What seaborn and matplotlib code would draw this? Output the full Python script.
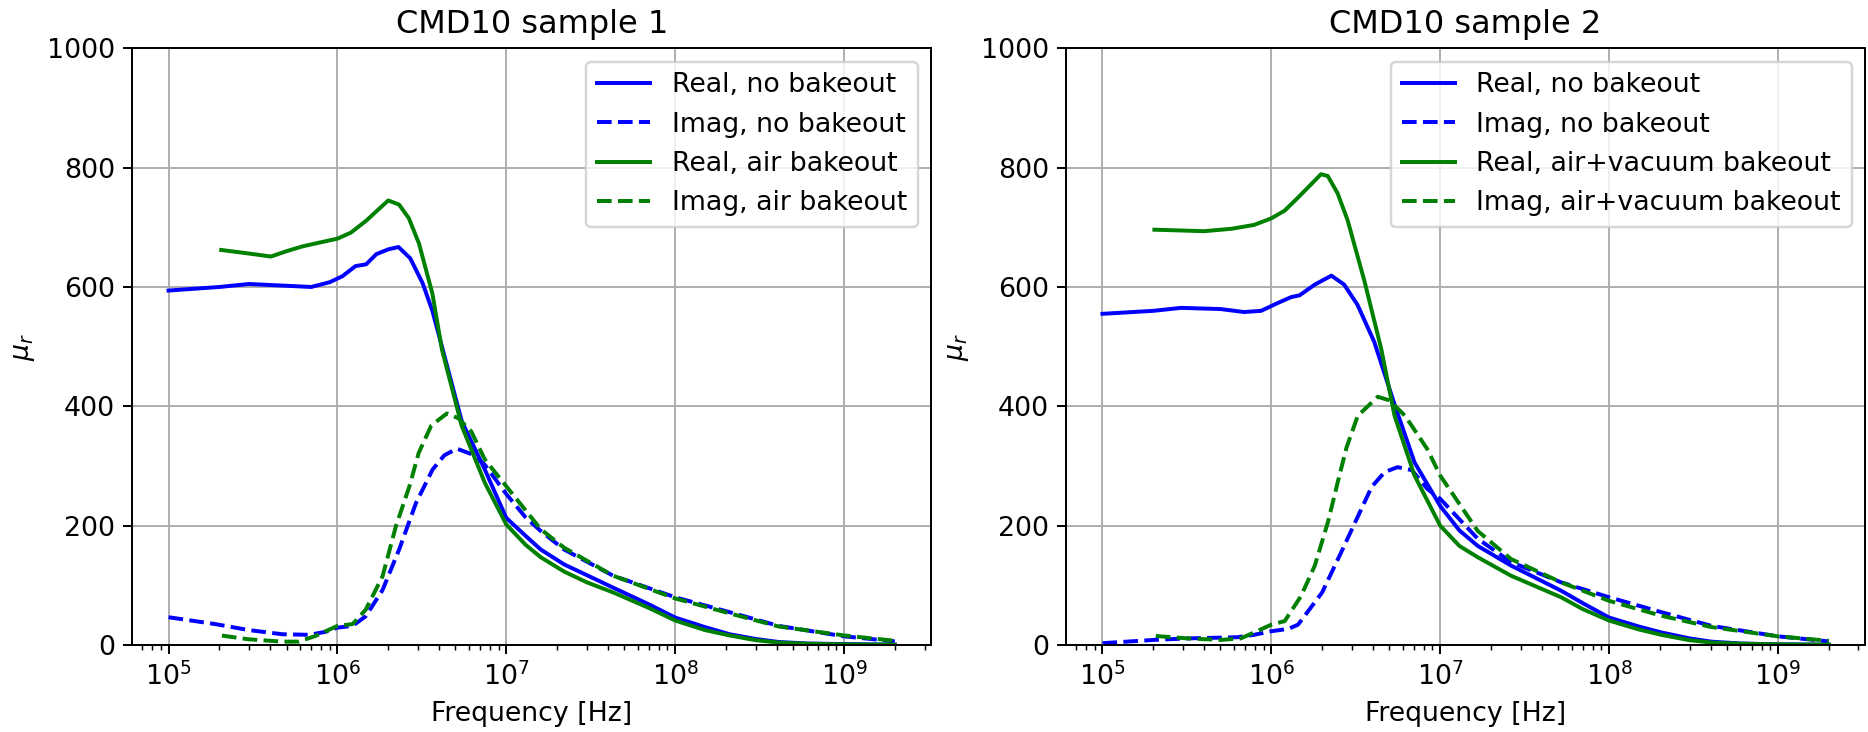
import numpy as np
import pandas as pd
import matplotlib
matplotlib.use("Agg")
import matplotlib.pyplot as plt
import seaborn as sns

# ---------------- data ----------------
# Sample 1
s1_real_no_f = [1e5, 2e5, 3e5, 5e5, 7e5, 9e5, 1.07e6, 1.28e6, 1.48e6, 1.7e6, 2e6, 2.3e6, 2.7e6,
                3.2e6, 3.65e6, 4.16e6, 5.45e6, 7.46e6, 1e7, 1.3e7, 1.6e7, 2.2e7, 3e7, 4.3e7, 7e7,
                1e8, 1.5e8, 2.1e8, 3e8, 4.1e8, 6e8, 1e9, 2e9]
s1_real_no_v = [594, 600, 605, 602, 600, 608, 618, 635, 638, 655, 663, 667, 648,
                606, 560, 500, 375, 294, 213, 183, 160, 135, 117, 96, 68,
                46, 30, 18, 10, 5, 2.5, 1.5, 0.5]

s1_imag_no_f = [1e5, 1.89e5, 2.98e5, 4.7e5, 6.8e5, 8.5e5, 1e6, 1.23e6, 1.47e6, 1.85e6, 2.32e6,
                2.92e6, 3.66e6, 4.3e6, 5.1e6, 6.2e6, 7.46e6, 1e7, 1.3e7, 1.6e7, 2.2e7, 4.3e7, 1e8,
                2.1e8, 4.1e8, 1e9, 2e9]
s1_imag_no_v = [46.5, 35, 25, 18, 17, 22, 29, 32, 48, 92, 160,
                238, 294, 318, 329, 320, 302, 253, 214, 191, 160, 116, 80,
                55, 32, 14.5, 6]

s1_real_air_f = [2.05e5, 3e5, 4.03e5, 5e5, 6.2e5, 8e5, 1e6, 1.2e6, 1.48e6, 1.75e6, 2e6, 2.32e6,
                 2.65e6, 3.04e6, 3.65e6, 4.16e6, 5.45e6, 7.46e6, 1e7, 1.3e7, 1.6e7, 2.2e7, 3e7,
                 4.3e7, 7e7, 1e8, 1.5e8, 2.1e8, 3e8, 4.1e8, 6e8, 1e9, 2e9]
s1_real_air_v = [662, 656, 651, 660, 668, 675, 681, 691, 711, 730, 745, 738,
                 715, 673, 589, 495, 367, 272, 202, 168, 147, 123, 105,
                 88, 62, 41, 25, 16, 8, 4, 2, 1, 0.5]

s1_imag_air_f = [2.07e5, 2.98e5, 4.7e5, 5.9e5, 7.4e5, 1e6, 1.23e6, 1.47e6, 1.85e6, 2.22e6, 2.67e6,
                 3.03e6, 3.6e6, 4.45e6, 5.2e6, 6.2e6, 7.46e6, 1e7, 1.6e7, 2.2e7, 4.3e7, 1e8,
                 2.1e8, 4.1e8, 1e9, 2e9]
s1_imag_air_v = [15.7, 9.5, 5.6, 5.6, 15, 32, 35, 59, 115, 199, 266,
                 322, 368, 388, 380, 358, 311, 266, 194, 163, 116, 78,
                 53, 31, 16, 7]

# Sample 2
s2_real_no_f = [1e5, 2e5, 2.92e5, 5e5, 6.9e5, 8.7e5, 1.09e6, 1.31e6, 1.47e6, 1.81e6, 2.27e6,
                2.7e6, 3.24e6, 4.07e6, 5.37e6, 7.05e6, 1e7, 1.3e7, 1.67e7, 2.63e7, 5.2e7, 7e7,
                1e8, 1.5e8, 2.04e8, 3e8, 4.05e8, 6e8, 1e9, 2e9]
s2_real_no_v = [555, 560, 565, 563, 558, 560, 573, 583, 586, 604, 619,
                604, 570, 508, 403, 306, 233, 192, 166, 133, 91, 70,
                46, 31, 21, 11, 5.5, 2.5, 1, 0.5]

s2_imag_no_f = [1e5, 2.03e5, 3.2e5, 6.3e5, 7.9e5, 1e6, 1.26e6, 1.44e6, 2e6, 2.6e6, 3.13e6,
                3.93e6, 4.7e6, 5.6e6, 6.8e6, 8.43e6, 1e7, 1.67e7, 2.63e7, 5.2e7, 1e8, 2.04e8,
                4.05e8, 1e9, 2e9]
s2_imag_no_v = [3, 8.5, 11, 13, 17, 23, 27, 34, 88, 156, 205,
                265, 290, 298, 293, 261, 245, 178, 139, 105, 80, 55,
                32, 14.5, 6]

s2_real_vac_f = [2.03e5, 4e5, 5.8e5, 7.9e5, 1e6, 1.2e6, 1.43e6, 1.72e6, 1.97e6, 2.16e6, 2.47e6,
                 2.83e6, 3.56e6, 4.47e6, 5.37e6, 7.05e6, 1e7, 1.3e7, 1.67e7, 2.63e7, 5.2e7, 7e7,
                 1e8, 1.5e8, 2.04e8, 3e8, 4.05e8, 6e8, 1e9, 2e9]
s2_real_vac_v = [696, 693.5, 697.5, 704, 715, 728, 749, 772, 789, 786, 757,
                 712, 610, 497, 384, 284, 200, 166, 147, 116, 80, 60,
                 41, 26, 17, 8, 4, 2, 1, 0.5]

s2_imag_vac_f = [2.07e5, 3.2e5, 5e5, 6.6e5, 1e6, 1.2e6, 1.5e6, 1.81e6, 2.17e6, 2.47e6, 2.79e6,
                 3.25e6, 4.27e6, 5e6, 6.2e6, 8.4e6, 1e7, 1.67e7, 2.63e7, 5.2e7, 1e8, 2.04e8,
                 4.05e8, 1e9, 2e9]
s2_imag_vac_v = [15, 11, 8.5, 11, 34, 40, 82, 133, 207, 272, 331,
                 384, 416, 410, 384, 328, 284, 191, 144, 105, 74, 49,
                 30, 14.5, 7]

titles = ["CMD10 sample 1", "CMD10 sample 2"]
labels_1 = ["Real, no bakeout", "Imag, no bakeout", "Real, air bakeout", "Imag, air bakeout"]
labels_2 = ["Real, no bakeout", "Imag, no bakeout", "Real, air+vacuum bakeout",
            "Imag, air+vacuum bakeout"]
y_ticks = [0, 200, 400, 600, 800, 1000]

panels = [
    (titles[0], labels_1, [(s1_real_no_f, s1_real_no_v), (s1_imag_no_f, s1_imag_no_v),
                           (s1_real_air_f, s1_real_air_v), (s1_imag_air_f, s1_imag_air_v)]),
    (titles[1], labels_2, [(s2_real_no_f, s2_real_no_v), (s2_imag_no_f, s2_imag_no_v),
                           (s2_real_vac_f, s2_real_vac_v), (s2_imag_vac_f, s2_imag_vac_v)]),
]
colors = ["blue", "blue", "green", "green"]
styles = ["-", "--", "-", "--"]

# ---------------- plot ----------------
plt.rcParams.update(matplotlib.rcParamsDefault)
plt.rcParams["font.size"] = 10.8
DPI = 178
fig, axes = plt.subplots(1, 2, figsize=(1868 / DPI, 732 / DPI), dpi=DPI)
fig.subplots_adjust(left=0.0708, right=0.9984, top=0.934, bottom=0.1189, wspace=0.169)

for ax, (title, labels, series) in zip(axes, panels):
    for (f, v), lab, c, ls in zip(series, labels, colors, styles):
        df = pd.DataFrame({"f": f, "v": v})
        sns.lineplot(data=df, x="f", y="v", ax=ax, color=c, linestyle=ls, label=lab,
                     estimator=None, sort=True, linewidth=1.6)
    ax.set_xscale("log")
    ax.set_ylim(0, 1000)
    ax.set_yticks(y_ticks)
    ax.set_title(title)
    ax.set_xlabel("Frequency [Hz]")
    ax.set_ylabel(r"$\mu_r$")
    ax.grid(True)
    ax.legend(loc="upper right", fontsize=10.8)

fig.savefig("out.png", dpi=DPI)
